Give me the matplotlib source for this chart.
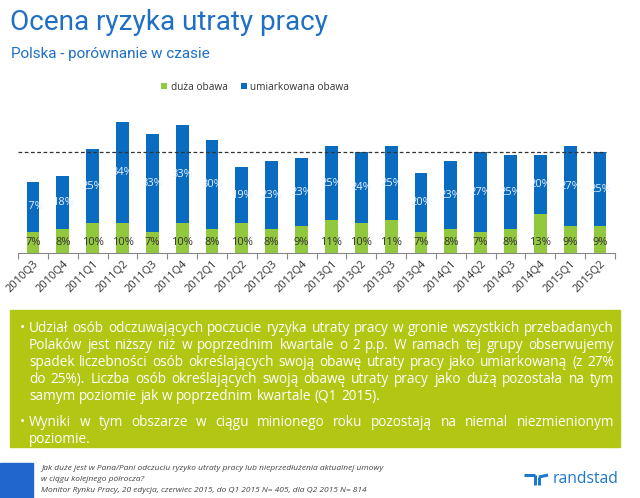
import matplotlib
matplotlib.use("Agg")
import matplotlib.pyplot as plt
from matplotlib.patches import Rectangle
from matplotlib.lines import Line2D

W, H = 640, 498

quarters = ["2010Q3", "2010Q4", "2011Q1", "2011Q2", "2011Q3", "2011Q4",
            "2012Q1", "2012Q2", "2012Q3", "2012Q4", "2013Q1", "2013Q2",
            "2013Q3", "2013Q4", "2014Q1", "2014Q2", "2014Q3", "2014Q4",
            "2015Q1", "2015Q2"]
duza = [7, 8, 10, 10, 7, 10, 8, 10, 8, 9, 11, 10, 11, 7, 8, 7, 8, 13, 9, 9]
umiarkowana = [17, 18, 25, 34, 33, 33, 30, 19, 23, 23, 25, 24, 25, 20, 23, 27, 25, 20, 27, 25]
ref_level = 34  # dashed reference line (latest total)

GREEN = "#92C83E"
BLUE = "#0A6CC0"
TITLE_BLUE = "#1F6FC5"
BOX_GREEN = "#B2C714"

plt.rcParams["font.family"] = ["Open Sans", "DejaVu Sans"]


def px(x, y):
    return x / W, 1 - y / H


fig = plt.figure(figsize=(W / 100, H / 100), dpi=100)
renderer = fig.canvas.get_renderer()


def fit_text(x, y, s, width, size, **kw):
    # shrink the font until the text is as wide as in the reference
    t = fig.text(*px(x, y), s, fontsize=size, **kw)
    w = t.get_window_extent(renderer).width
    t.set_fontsize(size * width / w)
    return t


# titles
fit_text(10, 22, "Ocena ryzyka utraty pracy", 318, 24, color=TITLE_BLUE,
         family=["Roboto", "DejaVu Sans"], va="center", ha="left")
fit_text(11, 54, "Polska - porównanie w czasie", 200, 14, color=TITLE_BLUE,
         family=["Roboto", "DejaVu Sans"], va="center", ha="left")

# chart
ax = fig.add_axes([18 / W, 1 - 253 / H, (615 - 18) / W, (253 - 112) / H])
x = range(len(quarters))
ax.bar(x, duza, width=0.43, color=GREEN, label="duża obawa")
ax.bar(x, umiarkowana, width=0.43, bottom=duza, color=BLUE, label="umiarkowana obawa")
for i in x:
    ax.text(i, 3.6, f"{duza[i]}%", ha="center", va="center", fontsize=8, color="#333333")
    ax.text(i, duza[i] + umiarkowana[i] / 2, f"{umiarkowana[i]}%", ha="center",
            va="center", fontsize=8, color="#E6F2FF")
ax.axhline(ref_level, color="#333333", lw=0.9, ls=(0, (3, 2)), xmax=0.985)
ax.set_xlim(-0.5, len(quarters) - 0.5)
ax.set_ylim(0, 47.5)
ax.set_yticks([])
for s in ["top", "right", "left"]:
    ax.spines[s].set_visible(False)
ax.spines["bottom"].set_color("#888888")
ax.set_xticks([i - 0.5 for i in range(len(quarters) + 1)], minor=False)
ax.set_xticklabels([])
ax.tick_params(axis="x", length=4, color="#888888", direction="out")
ax.set_xticks(list(x), minor=True)
ax.set_xticklabels(quarters, minor=True, rotation=45, ha="right",
                   rotation_mode="anchor", fontsize=8, color="#333333")
ax.tick_params(axis="x", which="minor", length=0, pad=4)

leg = fig.legend(loc="center", bbox_to_anchor=px(255, 87), ncol=2, frameon=False,
                 fontsize=7.3, handlelength=0.6, handleheight=0.6, handletextpad=0.3,
                 columnspacing=1.3)
for t in leg.get_texts():
    t.set_color("#333333")

# green comment box
fig.patches.append(Rectangle(px(10, 447), 610 / W, 137 / H, transform=fig.transFigure,
                             color=BOX_GREEN, zorder=0))

para1 = ["Udział osób odczuwających poczucie ryzyka utraty pracy w gronie wszystkich przebadanych",
         "Polaków jest niższy niż w poprzednim kwartale o 2 p.p. W ramach tej grupy obserwujemy",
         "spadek liczebności osób określających swoją obawę utraty pracy jako umiarkowaną (z 27%",
         "do 25%). Liczba osób określających swoją obawę utraty pracy jako dużą pozostała na tym",
         "samym poziomie jak w poprzednim kwartale (Q1 2015)."]
para2 = ["Wyniki w tym obszarze w ciągu minionego roku pozostają na niemal niezmienionym",
         "poziomie."]

body_kw = dict(fontsize=9.8, color="white", va="baseline", ha="left")


def text_width(s):
    t = fig.text(0, 0, s, **body_kw)
    w = t.get_window_extent(renderer).width
    t.remove()
    return w


SPACE = text_width("a b") - text_width("ab")


def justified(line, y, x0=29, x1=614, justify=True):
    words = line.split(" ")
    texts = [fig.text(*px(x0, y), w, **body_kw) for w in words]
    widths = [t.get_window_extent(renderer).width for t in texts]
    gap = SPACE
    if justify and len(words) > 1:
        gap = (x1 - x0 - sum(widths)) / (len(words) - 1)
    pos = x0
    for t, w in zip(texts, widths):
        t.set_x(pos / W)
        pos += w + gap


ys1 = [332, 349, 366, 383, 400]
for i, (line, y) in enumerate(zip(para1, ys1)):
    justified(line, y, justify=i < len(para1) - 1)
ys2 = [426, 443]
for i, (line, y) in enumerate(zip(para2, ys2)):
    justified(line, y, justify=i < len(para2) - 1)
fig.text(*px(20, 332), "•", **body_kw)
fig.text(*px(20, 426), "•", **body_kw)

# footer
fig.patches.append(Rectangle(px(0, 498), 33 / W, 35 / H, transform=fig.transFigure,
                             color="#2166CC", zorder=0))
notes = ["Jak duże jest w Pana/Pani odczuciu ryzyko utraty pracy lub nieprzedłużenia aktualnej umowy",
         "w ciągu kolejnego półrocza?",
         "Monitor Rynku Pracy, 20 edycja, czerwiec 2015, do Q1 2015 N= 405, dla Q2 2015 N= 814"]
for i, n in enumerate(notes):
    fig.text(*px(41, 468 + i * 11), n, fontsize=6.0, style="italic", color="#444444",
             va="center", ha="left")

LOGO = "#1F78CC"
fit_text(553, 479, "randstad", 65, 13, color=LOGO, va="center", ha="left")
for seg in [((524, 535), (475, 475)), ((535, 535), (475, 485)),
            ((539, 539), (485, 477)), ((539, 548), (477, 475))]:
    xs = [v / W for v in seg[0]]
    ys = [1 - v / H for v in seg[1]]
    fig.lines.append(Line2D(xs, ys, transform=fig.transFigure, color=LOGO, lw=2.2,
                            solid_capstyle="butt"))

fig.savefig("out.png", dpi=100)
